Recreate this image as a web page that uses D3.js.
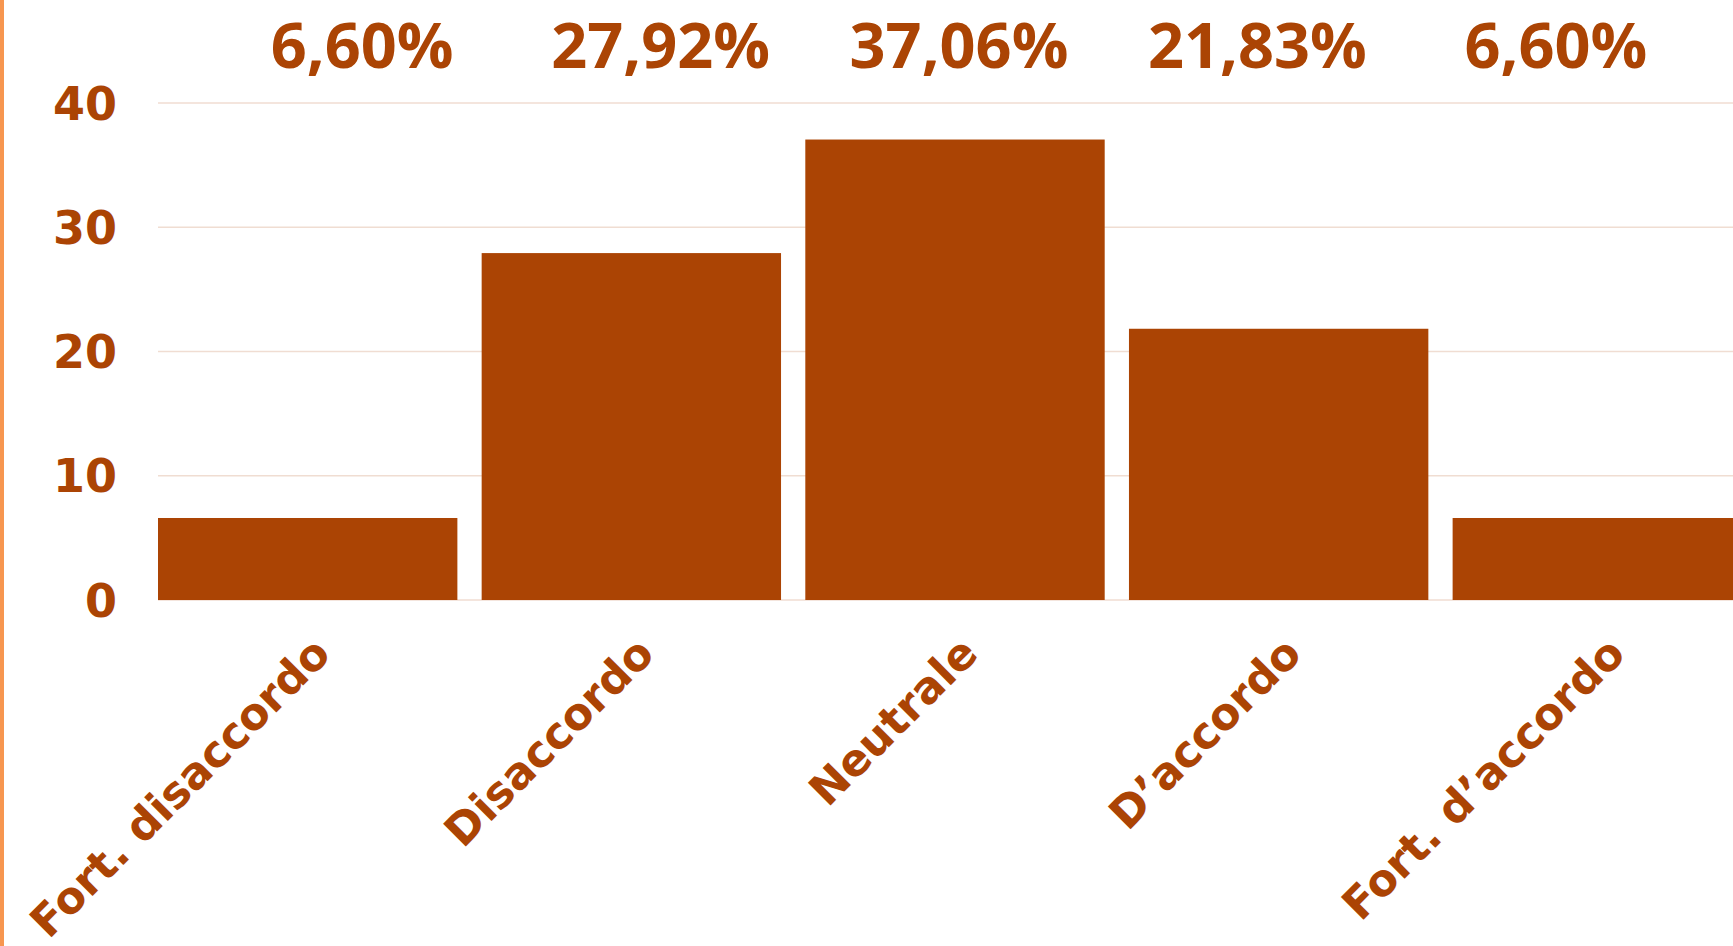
<!DOCTYPE html>
<html>
<head>
  <meta charset="utf-8">
  <style type="text/css">
    body { margin: 0; background: #fff; overflow: hidden; }
    .grid line { stroke: #f0ddd2; stroke-width: 1.5px; }
    .ylab text { font-family: "DejaVu Sans", sans-serif; font-weight: bold; font-size: 46px; fill: #ab4404; }
    .xlab text { font-family: "DejaVu Sans", sans-serif; font-weight: bold; font-size: 44px; fill: #ab4404; }
    .pct text { font-family: "Open Sans", sans-serif; font-weight: bold; font-size: 63px; fill: #ab4404; }
  </style>
</head>
<body>
<svg></svg>
<script src="https://d3js.org/d3.v7.min.js"></script>
<script>
    var width = 1733;
    var height = 946;

    /* chart data */
    var categories = ['Fort. disaccordo', 'Disaccordo', 'Neutrale', 'D\u2019accordo', 'Fort. d\u2019accordo'];
    var values = [6.60, 27.92, 37.06, 21.83, 6.60];
    var yTicks = [0, 10, 20, 30, 40];

    var svg = d3.select('svg')
      .attr('width', width)
      .attr('height', height);

    // orange strip on the left edge
    svg.append('rect')
      .attr('x', 0).attr('y', 0)
      .attr('width', 4).attr('height', height)
      .attr('fill', '#f79650');

    var x = d3.scaleBand()
      .domain(categories)
      .range([158, 1752])
      .paddingInner(0.075)
      .paddingOuter(0);

    var y = d3.scaleLinear()
      .domain([0, 40])
      .range([600, 103]);

    // percentage labels sit on their own band scale
    var xPct = d3.scaleBand()
      .domain(categories)
      .range([213, 1705]);

    var it = d3.formatLocale({ decimal: ',', thousands: '.', grouping: [3], currency: ['', '€'] });
    var fmt = it.format('.2f');

    svg.append('g')
      .attr('class', 'grid')
      .selectAll('line')
      .data(yTicks)
      .enter()
      .append('line')
      .attr('x1', 158)
      .attr('x2', width)
      .attr('y1', function(d) { return y(d); })
      .attr('y2', function(d) { return y(d); });

    svg.append('g')
      .attr('class', 'ylab')
      .selectAll('text')
      .data(yTicks)
      .enter()
      .append('text')
      .attr('x', 117)
      .attr('y', function(d) { return y(d); })
      .attr('dy', '0.36em')
      .attr('text-anchor', 'end')
      .text(function(d) { return d; });

    svg.append('g')
      .selectAll('rect')
      .data(values)
      .enter()
      .append('rect')
      .attr('x', function(d, i) { return x(categories[i]); })
      .attr('y', function(d) { return y(d); })
      .attr('width', x.bandwidth())
      .attr('height', function(d) { return y(0) - y(d); })
      .attr('fill', '#ab4404');

    svg.append('g')
      .attr('class', 'pct')
      .selectAll('text')
      .data(values)
      .enter()
      .append('text')
      .attr('x', function(d, i) { return xPct(categories[i]) + xPct.bandwidth() / 2; })
      .attr('y', 68)
      .attr('text-anchor', 'middle')
      .text(function(d) { return fmt(d) + '%'; });

    svg.append('g')
      .attr('class', 'xlab')
      .selectAll('text')
      .data(categories)
      .enter()
      .append('text')
      .attr('transform', function(d) {
        return 'translate(' + (x(d) + x.bandwidth() / 2 + 25) + ',656) rotate(-45)';
      })
      .attr('text-anchor', 'end')
      .text(function(d) { return d; });
</script>
</body>
</html>
